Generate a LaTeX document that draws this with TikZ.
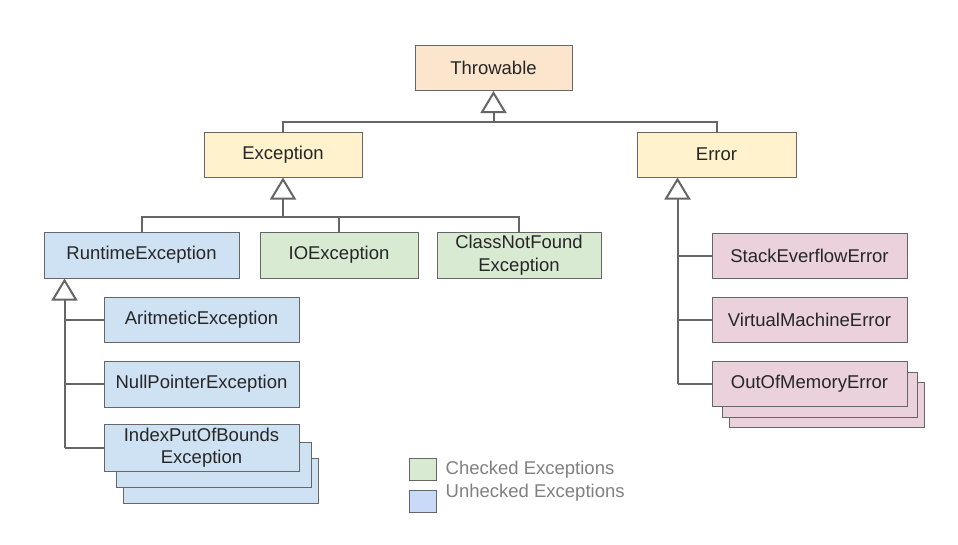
\documentclass[tikz,border=0pt]{standalone}
\usepackage{fontspec}
\setmainfont{Liberation Sans}
\usetikzlibrary{arrows.meta, positioning}

\definecolor{edge}{HTML}{666666}
\definecolor{throwfill}{HTML}{FCE5CD}
\definecolor{basefill}{HTML}{FFF2CC}
\definecolor{uncheckfill}{HTML}{CFE2F3}
\definecolor{legendblue}{HTML}{C9DAF8}
\definecolor{checkfill}{HTML}{D9EAD3}
\definecolor{errfill}{HTML}{EAD1DC}

\begin{document}
\begin{tikzpicture}[
        x=1pt, y=-1pt, % coordenadas em pixels da imagem
        box/.style={draw=edge, line width=1pt, rectangle, minimum width=158pt, minimum height=45pt, align=center, inner sep=0pt, text=black!85, font=\fontsize{18.5}{22.5}\selectfont},
        wide/.style={box, minimum width=195pt},
        throwbox/.style={box, fill=throwfill},
        basebox/.style={box, fill=basefill},
        uncheck/.style={wide, fill=uncheckfill},
        checkbox/.style={box, fill=checkfill},
        errbox/.style={wide, fill=errfill},
        link/.style={draw=edge, line width=2pt},
        inherit/.style={link, -{Triangle[open, length=22pt, width=26pt, line width=2pt]}},
        legendsq/.style={draw=edge, line width=1pt, minimum width=27pt, minimum height=22pt, inner sep=0pt},
        legendtxt/.style={text=black!50, inner sep=0pt, font=\fontsize{18.5}{22.5}\selectfont}
    ]
        \path[fill=white, use as bounding box] (0,0) rectangle (958,544);

        % Topo da hierarquia
        \node[throwbox, minimum width=157pt] (thr) at (493.5,68) {Throwable};
        \node[basebox] (exc) at (283,154.5) {Exception};
        \node[basebox, minimum width=159pt] (err) at (716.5,154.5) {Error};

        % Filhos de Exception
        \node[uncheck, minimum height=46pt] (rt) at (141.5,255) {RuntimeException};
        \node[checkbox, minimum height=46pt] (io) at (339,255) {IOException};
        \node[checkbox, minimum width=164pt, minimum height=46pt] (cnf) at (519,255) {ClassNotFound\\Exception};

        % Filhos de RuntimeException (pilha atrás primeiro)
        \node[uncheck] (ari) at (201.5,319.5) {AritmeticException};
        \node[uncheck, minimum height=46pt] (npe) at (201.5,384) {NullPointerException};
        \node[uncheck] (ioob3) at (220.5,480.5) {};
        \node[uncheck] (ioob2) at (213.5,464.5) {};
        \node[uncheck, minimum height=47pt] (ioob) at (201.5,447.5) {IndexPutOfBounds\\Exception};

        % Filhos de Error
        \node[errbox] (soe) at (809.5,255.5) {StackEverflowError};
        \node[errbox] (vme) at (809.5,319.5) {VirtualMachineError};
        \node[errbox] (oom3) at (827,404.5) {};
        \node[errbox] (oom2) at (819.5,394.5) {};
        \node[errbox] (oom) at (809.5,383.5) {OutOfMemoryError};

        % Ligações
        \coordinate (thrbus) at (493.5,122);
        \draw[link] (exc.north) |- (thrbus) -| (err.north);
        \draw[inherit] (thrbus) -- (thr.south);

        \coordinate (excbus) at (283,217);
        \draw[link] (rt.north) |- (excbus) -| (cnf.north);
        \draw[link] (io.north) -- (io.north |- excbus);
        \draw[inherit] (excbus) -- (exc.south);

        \coordinate (rttip) at ([xshift=21pt]rt.south west);
        \coordinate (rtbot) at (rttip |- ioob.west);
        \draw[link] (ari.west) -- (ari.west -| rttip);
        \draw[link] (npe.west) -- (npe.west -| rttip);
        \draw[link] (ioob.west) -- (rtbot);
        \draw[inherit] (rtbot) -- (rttip);

        \coordinate (errtip) at ([xshift=41pt]err.south west);
        \coordinate (errbot) at (errtip |- oom.west);
        \draw[link] (soe.west) -- (soe.west -| errtip);
        \draw[link] (vme.west) -- (vme.west -| errtip);
        \draw[link] (oom.west) -- (errbot);
        \draw[inherit] (errbot) -- (errtip);

        % Legenda
        \node[legendsq, fill=checkfill] (chk) at (422.5,469) {};
        \node[legendsq, fill=legendblue] (unc) at (422.5,501) {};
        \node[legendtxt, right=9pt of chk, yshift=-1pt] (chktxt) {Checked Exceptions};
        \node[legendtxt, right=9pt of unc, yshift=8pt] (unctxt) {Unhecked Exceptions};

    \end{tikzpicture}
\end{document}
